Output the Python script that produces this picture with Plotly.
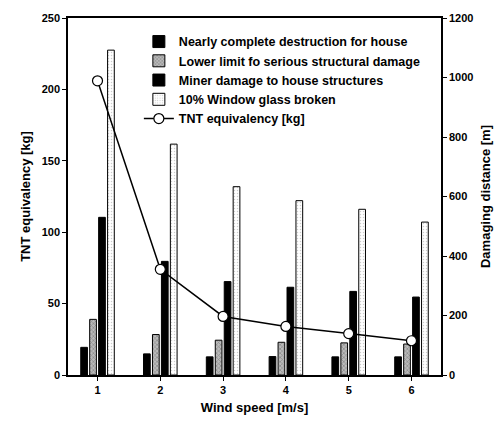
import plotly.graph_objects as go

wind_speed = [1, 2, 3, 4, 5, 6]
nearly_complete = [93, 71, 61, 62, 61, 61]
lower_limit = [187, 136, 117, 110, 108, 104]
miner_damage = [530, 382, 314, 295, 281, 262]
window_glass = [1092, 776, 633, 586, 557, 514]
tnt_equiv = [206, 74, 41, 34, 29, 24]

FONT = "Liberation Sans"

fig = go.Figure()
fig.add_trace(go.Bar(x=wind_speed, y=nearly_complete, name="Nearly complete destruction for house",
                     marker=dict(color="black", line=dict(color="black", width=1))))
fig.add_trace(go.Bar(x=wind_speed, y=lower_limit, name="Lower limit fo serious structural damage",
                     marker=dict(color="#bbbbbb", line=dict(color="black", width=1),
                                 pattern=dict(shape="x", fgcolor="#555555", size=3, solidity=0.4))))
fig.add_trace(go.Bar(x=wind_speed, y=miner_damage, name="Miner damage to house structures",
                     marker=dict(color="black", line=dict(color="black", width=1))))
fig.add_trace(go.Bar(x=wind_speed, y=window_glass, name="10% Window glass broken",
                     marker=dict(color="white", line=dict(color="black", width=1),
                                 pattern=dict(shape=".", fgcolor="#999999", size=3, solidity=0.2))))
fig.add_trace(go.Scatter(x=wind_speed, y=tnt_equiv, name="TNT equivalency [kg]", yaxis="y2",
                         mode="lines+markers",
                         line=dict(color="black", width=1.5),
                         marker=dict(symbol="circle", size=10, color="white",
                                     line=dict(color="black", width=1.2))))

titlefont = dict(family=FONT, size=13, color="black")

fig.update_layout(
    width=503, height=428,
    margin=dict(l=68, r=57, t=18, b=53),
    paper_bgcolor="white", plot_bgcolor="white",
    barmode="group", bargap=0.43, bargroupgap=0.25,
    font=dict(family=FONT, color="black"),
    showlegend=True,
    legend=dict(x=0.19, y=0.975, xanchor="left", yanchor="top",
                bgcolor="rgba(0,0,0,0)", borderwidth=0,
                font=dict(family=FONT, size=12.5, color="black", weight="bold"),
                tracegroupgap=0, itemwidth=30),
    xaxis=dict(range=[0.53, 6.47], tickvals=wind_speed, ticktext=[str(v) for v in wind_speed],
               showgrid=False, zeroline=False, showline=True, linecolor="black", linewidth=1.5,
               mirror=True, ticks="outside", ticklen=4, tickcolor="black",
               tickfont=dict(family=FONT, size=11, color="black", weight="bold"),
               title=dict(text="<b>Wind speed [m/s]</b>", font=titlefont, standoff=8)),
    yaxis=dict(range=[0, 1200], tickvals=[0, 200, 400, 600, 800, 1000, 1200], side="right",
               showgrid=False, zeroline=False, showline=True, linecolor="black", linewidth=1.5,
               ticks="outside", ticklen=4, tickcolor="black",
               tickfont=dict(family=FONT, size=11, color="black", weight="bold"),
               title=dict(text="<b>Damaging distance [m]</b>", font=titlefont, standoff=8)),
    yaxis2=dict(range=[0, 250], tickvals=[0, 50, 100, 150, 200, 250], side="left", overlaying="y",
                showgrid=False, zeroline=False, showline=True, linecolor="black", linewidth=1.5,
                ticks="outside", ticklen=4, tickcolor="black",
                tickfont=dict(family=FONT, size=11, color="black", weight="bold"),
                title=dict(text="<b>TNT equivalency [kg]</b>", font=titlefont, standoff=8)),
)

fig.write_html("out.html")
